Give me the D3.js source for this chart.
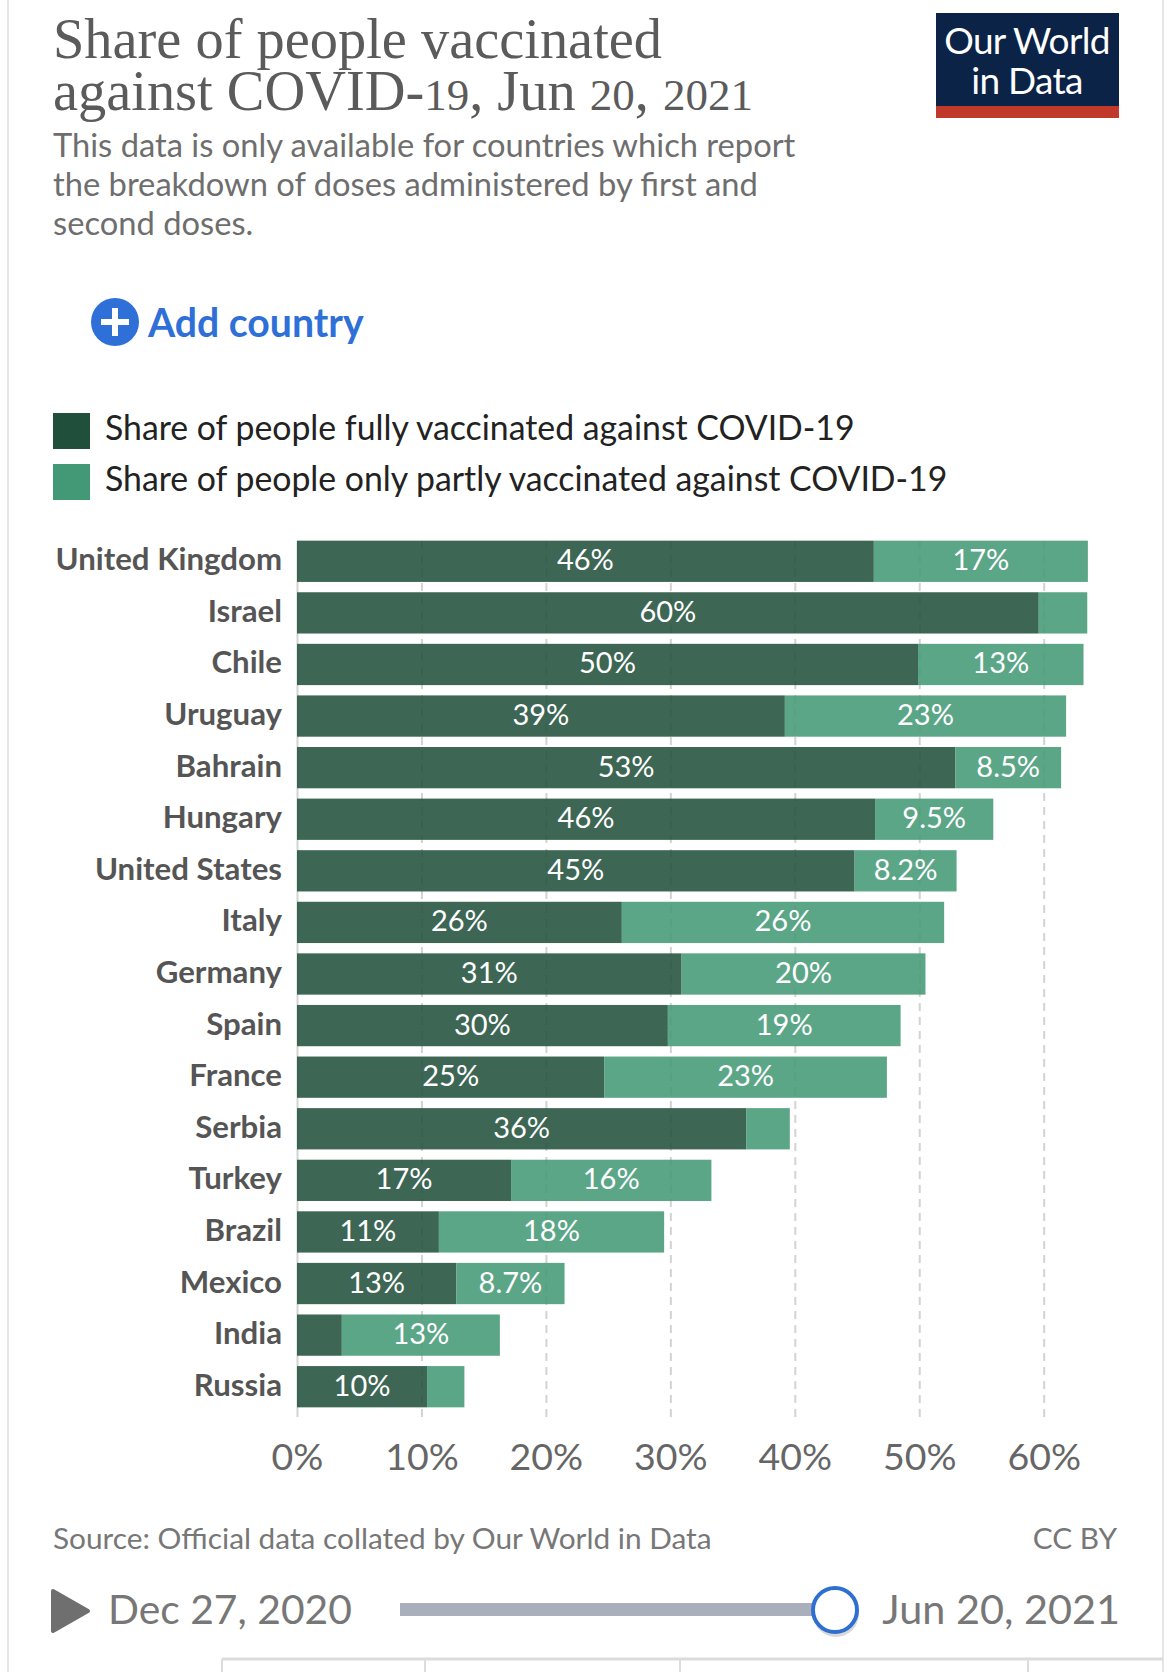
<!DOCTYPE html>
<html>
<head>
<meta charset="utf-8">
<script src="https://cdn.jsdelivr.net/npm/d3@7"></script>
<style>
  html, body { margin: 0; padding: 0; background: #fff; }
  svg { display: block; }
  text { font-family: Lato, sans-serif; }
</style>
</head>
<body>
<div id="chart"></div>
<script>
const countries = ["United Kingdom", "Israel", "Chile", "Uruguay", "Bahrain", "Hungary", "United States", "Italy", "Germany", "Spain", "France", "Serbia", "Turkey", "Brazil", "Mexico", "India", "Russia"];
const fullyVaccinated = [46.35, 59.6, 49.9, 39.2, 52.9, 46.45, 44.8, 26.1, 30.9, 29.8, 24.7, 36.1, 17.2, 11.4, 12.8, 3.6, 10.45];
const partlyVaccinated = [17.2, 3.9, 13.3, 22.6, 8.5, 9.5, 8.2, 25.9, 19.6, 18.7, 22.7, 3.5, 16.1, 18.1, 8.7, 12.7, 3.0];
const seriesNames = ["Share of people fully vaccinated against COVID-19", "Share of people only partly vaccinated against COVID-19"];
const xTicks = [0, 10, 20, 30, 40, 50, 60];
const subtitleLines = ["This data is only available for countries which report", "the breakdown of doses administered by first and", "second doses."];

const width = 1170, height = 1672;
const svg = d3.select("#chart").append("svg").attr("width", width).attr("height", height);

// page edges and the tab strip at the bottom
svg.selectAll("line.edge").data([8, 1163]).enter().append("line")
  .attr("x1", d => d).attr("x2", d => d).attr("y1", 0).attr("y2", height)
  .attr("stroke", "#dddddd").attr("stroke-width", 1.5);
svg.append("line").attr("x1", 222).attr("x2", 1163).attr("y1", 1659).attr("y2", 1659)
  .attr("stroke", "#dcdcdc").attr("stroke-width", 3);
svg.selectAll("line.tab").data([222, 425, 680, 1028]).enter().append("line")
  .attr("x1", d => d).attr("x2", d => d).attr("y1", 1659).attr("y2", height)
  .attr("stroke", "#dcdcdc").attr("stroke-width", 2);

// header: one text element, digits smaller to stand in for the old-style figures of the original
const title = svg.append("text")
  .style("font-family", "'Liberation Serif', serif").style("font-size", "56.4px").attr("fill", "#5b5b5b");
title.append("tspan").attr("x", 53).attr("y", 57.5).text("Share of people vaccinated");
title.append("tspan").attr("x", 53).attr("y", 110).text("against COVID-");
[["19", true], [", Jun ", false], ["20", true], [", ", false], ["2021", true]].forEach(([t, small]) => {
  title.append("tspan").text(t).style("font-size", small ? "45px" : null);
});
svg.selectAll("text.subtitle").data(subtitleLines).enter().append("text")
  .attr("class", "subtitle").attr("x", 53).attr("y", (d, i) => 157 + i * 39).text(d => d)
  .style("font-size", "32.7px").attr("fill", "#6e6e6e");

// logo
svg.append("rect").attr("x", 936).attr("y", 13).attr("width", 183).attr("height", 105).attr("fill", "#0b2346");
svg.append("rect").attr("x", 936).attr("y", 106).attr("width", 183).attr("height", 12).attr("fill", "#c0392b");
const logo = svg.append("text").attr("text-anchor", "middle")
  .style("font-size", "37px").style("letter-spacing", "-0.7px").attr("fill", "#fff");
logo.append("tspan").attr("x", 1027).attr("y", 54).text("Our World");
logo.append("tspan").attr("x", 1027).attr("y", 94).text("in Data");

// add country button
svg.append("circle").attr("cx", 115).attr("cy", 322).attr("r", 24).attr("fill", "#2f6fd8");
svg.append("path").attr("d", "M115 308V336M101 322H129").attr("stroke", "#fff").attr("stroke-width", 6);
svg.append("text").attr("x", 148).attr("y", 337).text("Add country")
  .style("font-size", "39.2px").style("font-weight", 700).attr("fill", "#2f6fd8");

// legend
const color = d3.scaleOrdinal().domain(seriesNames).range(["#204f3b", "#439975"]);
const legend = svg.selectAll("g.legend").data(seriesNames).enter().append("g")
  .attr("transform", (d, i) => `translate(53, ${413 + i * 51})`);
legend.append("rect").attr("width", 37).attr("height", 36).attr("fill", d => color(d));
legend.append("text").attr("x", 52).attr("y", 27).text(d => d)
  .style("font-size", "33.8px").attr("fill", "#222");

// scales
const x = d3.scaleLinear().domain([0, 60]).range([297, 1043.7]);
const y = d3.scaleBand().domain(countries).range([535.5, 1412.5]).paddingInner(0.2).paddingOuter(0.1);

// grid + axis
const axis = svg.append("g").attr("transform", "translate(0, 1417)")
  .call(d3.axisBottom(x).tickValues(xTicks).tickFormat(d => d + "%").tickSize(-876).tickPadding(26));
axis.select(".domain").remove();
axis.selectAll("line").attr("stroke", "#d3d3d3").attr("stroke-width", 2)
  .attr("stroke-dasharray", d => d === 0 ? null : "8 6");
axis.selectAll("text").style("font-size", "37.5px").attr("fill", "#666");

// stacked bars
const rows = countries.map((name, i) => ({ name, full: fullyVaccinated[i], part: partlyVaccinated[i] }));
const fmt = v => (v < 10 ? d3.format(".1f")(v) : d3.format(".0f")(v)) + "%";
const row = svg.selectAll("g.row").data(rows).enter().append("g").attr("class", "row");

row.append("rect").attr("x", x(0)).attr("y", d => y(d.name))
  .attr("width", d => x(d.full) - x(0)).attr("height", y.bandwidth())
  .attr("fill", color(seriesNames[0])).attr("fill-opacity", 0.87);
row.append("rect").attr("x", d => x(d.full)).attr("y", d => y(d.name))
  .attr("width", d => x(d.full + d.part) - x(d.full)).attr("height", y.bandwidth())
  .attr("fill", color(seriesNames[1])).attr("fill-opacity", 0.87);

// value labels, skipped where the segment is too narrow
row.filter(d => d.full >= 5).append("text")
  .attr("x", d => x(d.full / 2)).attr("y", d => y(d.name) + y.bandwidth() / 2 + 9)
  .attr("text-anchor", "middle").text(d => fmt(d.full))
  .style("font-size", "29px").attr("fill", "#fff");
row.filter(d => d.part >= 5).append("text")
  .attr("x", d => x(d.full + d.part / 2)).attr("y", d => y(d.name) + y.bandwidth() / 2 + 9)
  .attr("text-anchor", "middle").text(d => fmt(d.part))
  .style("font-size", "29px").attr("fill", "#fff");

// country labels
svg.selectAll("text.country").data(countries).enter().append("text")
  .attr("class", "country").attr("x", 282).attr("y", d => y(d) + y.bandwidth() / 2 + 9).text(d => d)
  .attr("text-anchor", "end").style("font-size", "31.2px").style("font-weight", 700).attr("fill", "#555");

// footer
svg.append("text").attr("x", 53).attr("y", 1549).text("Source: Official data collated by Our World in Data")
  .style("font-size", "29.8px").attr("fill", "#777");
svg.append("text").attr("x", 1117).attr("y", 1549).attr("text-anchor", "end").text("CC BY")
  .style("font-size", "29.8px").attr("fill", "#777");

// timeline
svg.append("path").attr("d", "M53 1591L88 1611L53 1631Z").attr("fill", "#6f6f6f")
  .attr("stroke", "#6f6f6f").attr("stroke-width", 4).attr("stroke-linejoin", "round");
svg.append("text").attr("x", 108).attr("y", 1624).text("Dec 27, 2020")
  .style("font-size", "40.8px").attr("fill", "#777");
svg.append("rect").attr("x", 400).attr("y", 1603).attr("width", 430).attr("height", 13).attr("fill", "#a9b0bc");
svg.append("ellipse").attr("cx", 836).attr("cy", 1614).attr("rx", 23).attr("ry", 23).attr("fill", "#000").attr("opacity", 0.15);
svg.append("circle").attr("cx", 835).attr("cy", 1610).attr("r", 22).attr("fill", "#fff")
  .attr("stroke", "#2f6fd0").attr("stroke-width", 4);
svg.append("text").attr("x", 1120).attr("y", 1624).attr("text-anchor", "end").text("Jun 20, 2021")
  .style("font-size", "41.4px").attr("fill", "#777");
</script>
</body>
</html>
